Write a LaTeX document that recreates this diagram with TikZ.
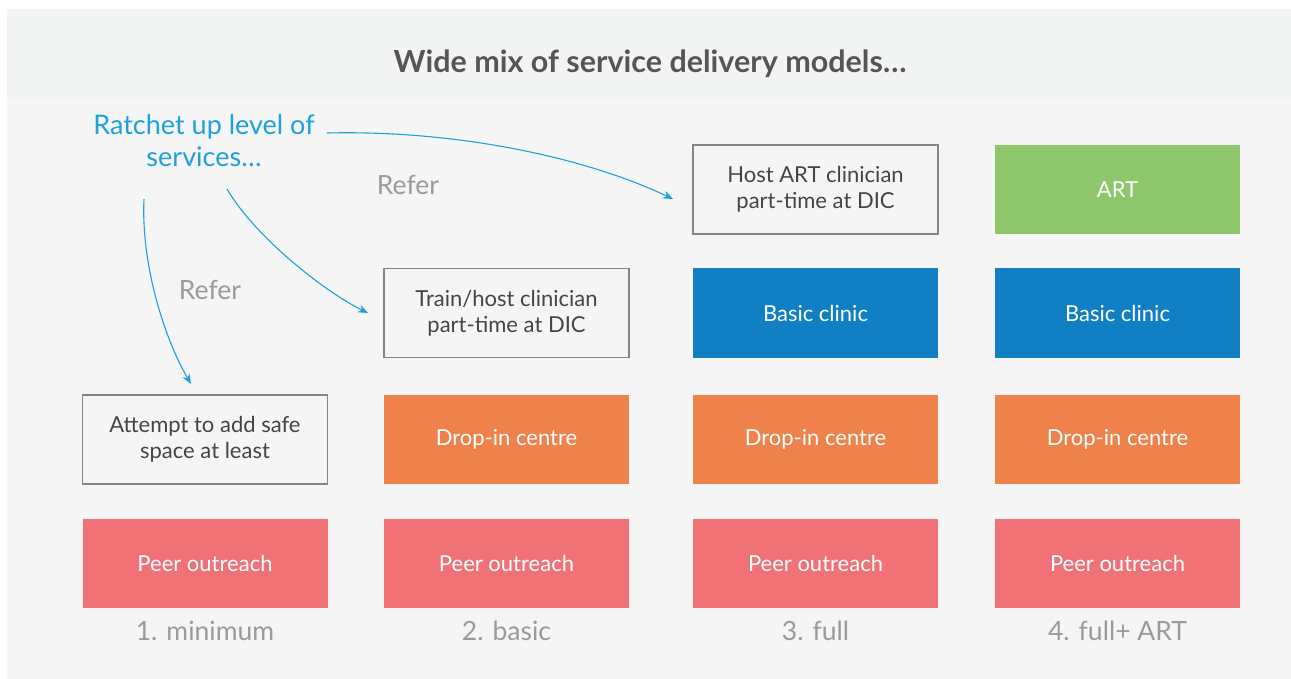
\documentclass[tikz,border=0pt]{standalone}
\usepackage{fontspec}
\setmainfont{Lato}
\usetikzlibrary{arrows.meta}
\definecolor{panel}{HTML}{F5F5F5}
\definecolor{band}{HTML}{F2F3F3}
\definecolor{titlec}{HTML}{555555}
\definecolor{boxtext}{HTML}{454545}
\definecolor{boxline}{HTML}{858585}
\definecolor{cgreen}{HTML}{8DC66B}
\definecolor{cblue}{HTML}{107FC4}
\definecolor{corange}{HTML}{EE824A}
\definecolor{cpink}{HTML}{F07277}
\definecolor{cyanblue}{HTML}{1CA1DB}
\definecolor{grey}{HTML}{9A9A9A}
\tikzset{
  cell/.style={minimum width=245pt, minimum height=89pt, inner sep=0pt, align=center, font=\fontsize{22}{26}\selectfont},
  obox/.style={cell, draw=boxline, line width=1.2pt, fill=panel, text=boxtext},
  fbox/.style={cell, draw=none, text=white},
  collabel/.style={text=grey, font=\fontsize{26.5}{30}\selectfont},
  refer/.style={text=grey, font=\fontsize{26.5}{30}\selectfont},
  conn/.style={draw=cyanblue, line width=1.1pt, -{Stealth[length=10pt,width=8pt]}}
}
\begin{document}
\begin{tikzpicture}[x=1pt,y=-1pt]
\useasboundingbox (0,0) rectangle (1291,679);
\fill[white] (0,0) rectangle (1291,679);
\fill[panel] (7,9) rectangle (1291,679);
\fill[band] (7,9) rectangle (1291,100);
\node[text=titlec, font=\fontsize{30.5}{34}\selectfont\bfseries] (title) at (650,64) {Wide mix of service delivery models…};

% column 1
\node[obox] (attempt) at (205,439.5) {Attempt to add safe\\space at least};
\node[fbox, fill=cpink] (peer1) at (205,563.5) {Peer outreach};
\node[collabel] (lab1) at (205,631) {1. minimum};
% column 2
\node[obox] (train) at (506.5,313) {Train/host clinician\\part-time at DIC};
\node[fbox, fill=corange] (drop2) at (506.5,439.5) {Drop-in centre};
\node[fbox, fill=cpink] (peer2) at (506.5,563.5) {Peer outreach};
\node[collabel] (lab2) at (506.5,631) {2. basic};
% column 3
\node[obox] (host) at (815.5,189.5) {Host ART clinician\\part-time at DIC};
\node[fbox, fill=cblue] (clinic3) at (815.5,313) {Basic clinic};
\node[fbox, fill=corange] (drop3) at (815.5,439.5) {Drop-in centre};
\node[fbox, fill=cpink] (peer3) at (815.5,563.5) {Peer outreach};
\node[collabel] (lab3) at (815.5,631) {3. full};
% column 4
\node[fbox, fill=cgreen] (art) at (1117.5,189.5) {ART};
\node[fbox, fill=cblue] (clinic4) at (1117.5,313) {Basic clinic};
\node[fbox, fill=corange] (drop4) at (1117.5,439.5) {Drop-in centre};
\node[fbox, fill=cpink] (peer4) at (1117.5,563.5) {Peer outreach};
\node[collabel] (lab4) at (1117.5,631) {4. full+ ART};

% ratchet text
\node[text=cyanblue, align=center, font=\fontsize{27}{32}\selectfont] (ratchet) at (204,141) {Ratchet up level of\\services…};
\node[refer] (refer1) at (408,185) {Refer};
\node[refer] (refer2) at (210,290) {Refer};

% connectors
\coordinate (s1) at (327,133);
\coordinate (e1) at (673,199);
\coordinate (s2) at (227,189);
\coordinate (e2) at (368,313);
\coordinate (s3) at (144,199);
\coordinate (e3) at (191,384);
\draw[conn] (s1) .. controls (450,130) and (580,155) .. (e1);
\draw[conn] (s2) .. controls (255,237) and (325,292) .. (e2);
\draw[conn] (s3) .. controls (141,262) and (163,336) .. (e3);
\end{tikzpicture}
\end{document}
